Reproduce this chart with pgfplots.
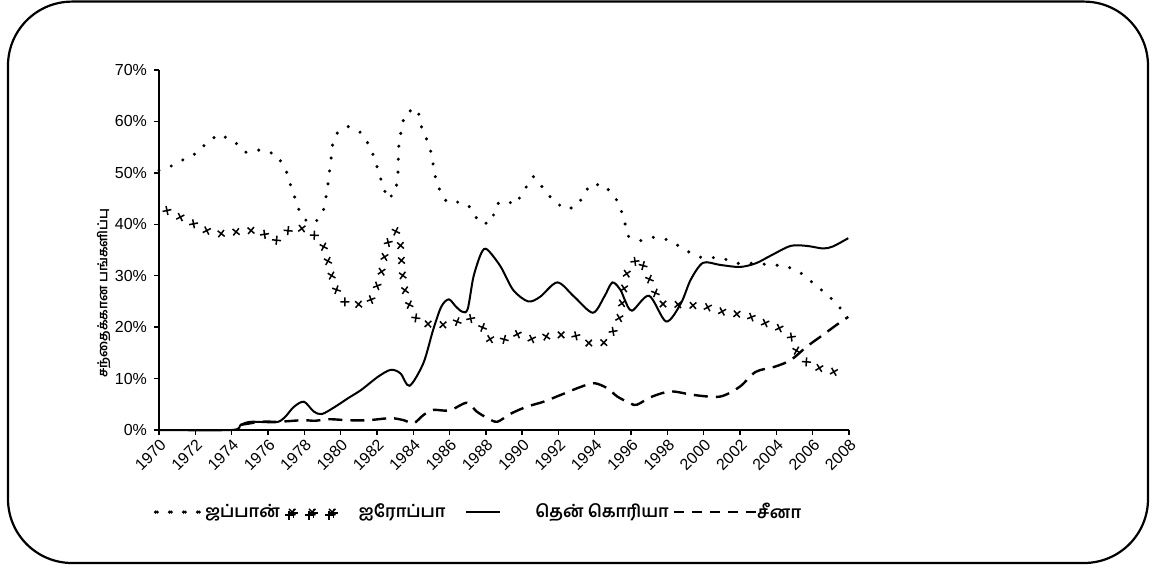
\documentclass[border=0pt]{standalone}
\usepackage{fontspec}
\setmainfont{Liberation Sans}
\newfontfamily\tafont[Script=Tamil]{Hind Madurai}
\usepackage{pgfplots}
\pgfplotsset{compat=1.18}
\usetikzlibrary{decorations.markings}
\tikzset{
  xmarks/.style={decoration={markings, mark=between positions 0.003 and 1 step 7.5pt with {\draw[draw=black,line width=0.75pt] (-1.6pt,-1.6pt)--(1.6pt,1.6pt) (-1.6pt,1.6pt)--(1.6pt,-1.6pt);}}, postaction={decorate}}
}
\begin{document}
\begin{tikzpicture}
\useasboundingbox (0,0) rectangle (579pt,-285.5pt);
\draw[line width=1.1pt, rounded corners=32pt] (4pt,-0.8pt) rectangle (574pt,-281.5pt);
\begin{axis}[
  at={(79.5pt,-215pt)}, anchor=south west,
  scale only axis, width=345pt, height=180pt,
  xmin=1970, xmax=2008, ymin=0, ymax=70,
  axis lines=left, axis line style={-, line width=1pt},
  tick align=outside, tick style={line width=0.7pt, black}, major tick length=2.5pt,
  xtick={1970,1972,...,2008}, ytick={0,10,...,70},
  /pgf/number format/assume math mode=true,
  xticklabel style={/pgf/number format/1000 sep=, rotate=45, anchor=north east, font=\fontsize{8}{9}\selectfont, inner sep=1pt},
  yticklabel style={font=\fontsize{8}{9}\selectfont},
  yticklabel={\pgfmathprintnumber{\tick}\%},
  ylabel={\tafont\bfseries\fontsize{6.5}{7}\selectfont சந்தைக்கான பங்களிப்பு},
  every axis y label/.style={at={(axis description cs:-0.08,0.38)}, rotate=90, anchor=center},
  clip=false,
  legend columns=-1,
  legend style={draw=none, fill=none, at={(-0.0101,-0.228)}, anchor=west, inner sep=0pt, outer sep=0pt,
    font=\tafont\bfseries\fontsize{8.5}{10}\selectfont,
    nodes={inner sep=0pt},
    /tikz/column 1/.style={column sep=2pt},
    /tikz/column 2/.style={column sep=2pt},
    /tikz/column 3/.style={column sep=10pt},
    /tikz/column 4/.style={column sep=10pt},
    /tikz/column 5/.style={column sep=17pt},
    /tikz/column 6/.style={column sep=2pt},
    /tikz/column 7/.style={column sep=-3pt}},
]
% Japan
\addplot[black, line width=1.7pt, line cap=round, dash pattern=on 0pt off 6.5pt,
  legend image code/.code={\foreach \i in {0,1,2,3} \fill[black] (\i*7pt,0) circle (0.9pt);}]
coordinates {(1970,50.5)(1970.6,51.2)(1971.25,52.4)(1972.17,54)(1972.6,55.8)(1973.3,57.5)(1974.12,56.2)(1974.76,54)(1975.65,54.5)(1976.5,53.5)(1977.0,50.4)(1977.24,47.7)(1977.48,45.2)(1977.67,43.1)(1977.9,41.6)(1978.16,40.5)(1978.61,40.3)(1979.1,43.1)(1979.3,47.7)(1979.48,52.9)(1979.56,55.6)(1979.84,57.9)(1980.42,59)(1981.14,57.8)(1981.64,55)(1981.91,52.3)(1982.18,49.2)(1982.58,44.9)(1983.03,46.2)(1983.16,50)(1983.2,55)(1983.4,59.7)(1983.66,61.9)(1984.25,62.4)(1984.47,58.7)(1984.86,55.6)(1985.06,52.9)(1985.15,50)(1985.42,47)(1985.85,44.3)(1986.35,44.4)(1987.02,43.8)(1987.37,41.8)(1987.72,40.1)(1988.28,40.3)(1988.63,44)(1989.12,44.6)(1989.6,43.8)(1990.0,45.9)(1990.33,47.9)(1990.61,49.3)(1991.22,46.8)(1991.7,44.6)(1992.41,42.9)(1992.96,43.4)(1993.39,45.5)(1993.71,47.7)(1994.52,47.7)(1995.28,44.4)(1995.57,41.5)(1995.83,37.7)(1996.56,36.8)(1997.25,37.5)(1998.02,37)(1998.92,35.2)(1999.46,34)(2000,33.4)(2000.9,33.6)(2001.8,32.4)(2002.86,32.4)(2003.74,32.1)(2004.53,31.9)(2005.32,30.6)(2006.15,28.2)(2006.94,25.9)(2007.4,24)(2007.96,22.6)};
\addlegendentry{ஜப்பான்}
% Europe
\addplot[draw=none, xmarks,
  legend image code/.code={\foreach \i in {0,1,2} {\draw[draw=black,line width=0.75pt] ({\i*10pt-1.6pt},-1.6pt)--({\i*10pt+1.6pt},1.6pt) ({\i*10pt-1.6pt},1.6pt)--({\i*10pt+1.6pt},-1.6pt);}}]
coordinates {(1970.3,43)(1970.82,41.8)(1971.53,41)(1972.27,39.2)(1973.21,38.1)(1974.43,38.6)(1975.49,38.9)(1976.37,36.6)(1977.33,39.4)(1978.25,39)(1979.03,36.1)(1979.21,34)(1979.34,32.4)(1979.61,28.5)(1979.96,25.9)(1980.42,24.3)(1981.58,24.6)(1982.18,29.3)(1982.39,33.2)(1982.58,36.2)(1983.03,38.8)(1983.3,36)(1983.39,30.8)(1983.57,26.7)(1983.93,22.8)(1984.38,20.7)(1986.0,20.4)(1987.02,22)(1987.79,20.2)(1988.07,17.8)(1988.81,17.2)(1989.6,18.8)(1990.61,17.6)(1991.75,18.5)(1992.87,18.5)(1993.61,16.9)(1994.56,17)(1995.24,20.3)(1995.42,22.7)(1995.6,27.2)(1995.78,30.8)(1996.39,33.6)(1996.82,31)(1997.08,28.7)(1997.33,26.7)(1997.59,24.5)(1998.11,24.5)(1998.92,24.3)(2000,24.1)(2001.35,22.7)(2002.33,22.4)(2003.3,20.9)(2004.17,19.8)(2004.93,17.8)(2005.11,15.4)(2005.84,12.5)(2006.67,11.8)(2007.5,11)(2007.94,10.8)};
\addlegendentry{ஐரோப்பா}
% South Korea
\addplot[black, line width=1pt, smooth, tension=0.5,
  legend image code/.code={\draw[black,line width=1pt] (0,0)--(17pt,0);}]
coordinates {(1970,0)(1974,0)(1974.5,1)(1975.06,1.6)(1976.41,1.5)(1976.88,2.3)(1977.43,4.5)(1977.98,5.5)(1978.52,3.6)(1978.97,3.1)(1979.69,4.5)(1980.42,6.2)(1981.14,7.8)(1982.04,10.3)(1982.76,11.7)(1983.3,11)(1983.8,8.6)(1984.56,13)(1985.1,19.5)(1985.55,24)(1985.96,25.4)(1986.35,24)(1986.7,23)(1987.0,23.5)(1987.32,29.8)(1987.75,34.4)(1988.07,35.1)(1988.81,31.8)(1989.51,27.2)(1990.33,25)(1990.99,25.9)(1991.94,28.7)(1992.87,25.9)(1993.89,22.8)(1994.52,25.9)(1994.97,28.7)(1995.42,27.2)(1995.64,25.4)(1996.05,23.2)(1996.99,26.1)(1997.93,21.1)(1998.74,24.6)(1999.28,29.2)(1999.96,32.5)(2000.9,32.1)(2001.98,31.7)(2002.86,32.4)(2003.74,34)(2004.79,35.8)(2005.67,35.8)(2006.57,35.3)(2007.12,35.7)(2007.96,37.3)};
\addlegendentry{தென் கொரியா}
% China
\addplot[black, line width=1.2pt, smooth, tension=0.5, dash pattern=on 7pt off 4pt,
  legend image code/.code={\draw[black,line width=1.2pt,dash pattern=on 5pt off 4pt] (0,0)--(44pt,0);}]
coordinates {(1974.5,1.0)(1975.65,1.6)(1976.6,1.6)(1977.89,1.9)(1978.61,1.8)(1979.34,2.1)(1980.42,1.9)(1981.5,1.9)(1982.76,2.3)(1983.48,1.9)(1984.02,1.3)(1984.56,2.9)(1985.1,3.9)(1986,3.8)(1986.96,5.3)(1987.49,3.6)(1988.1,2.3)(1988.63,1.6)(1989.33,3.1)(1990.23,4.5)(1991.18,5.5)(1992.32,7.1)(1993.24,8.4)(1993.98,9.1)(1994.7,8.1)(1995.24,6.5)(1995.96,5.2)(1996.31,4.9)(1997.16,6.5)(1998.2,7.5)(1999.46,6.8)(2000.9,6.5)(2001.98,8.4)(2002.86,11.3)(2003.91,12.3)(2004.79,13.6)(2005.67,16.2)(2006.57,18.5)(2007.3,20.4)(2007.96,22)};
\addlegendentry{சீனா}
\end{axis}
\end{tikzpicture}
\end{document}
